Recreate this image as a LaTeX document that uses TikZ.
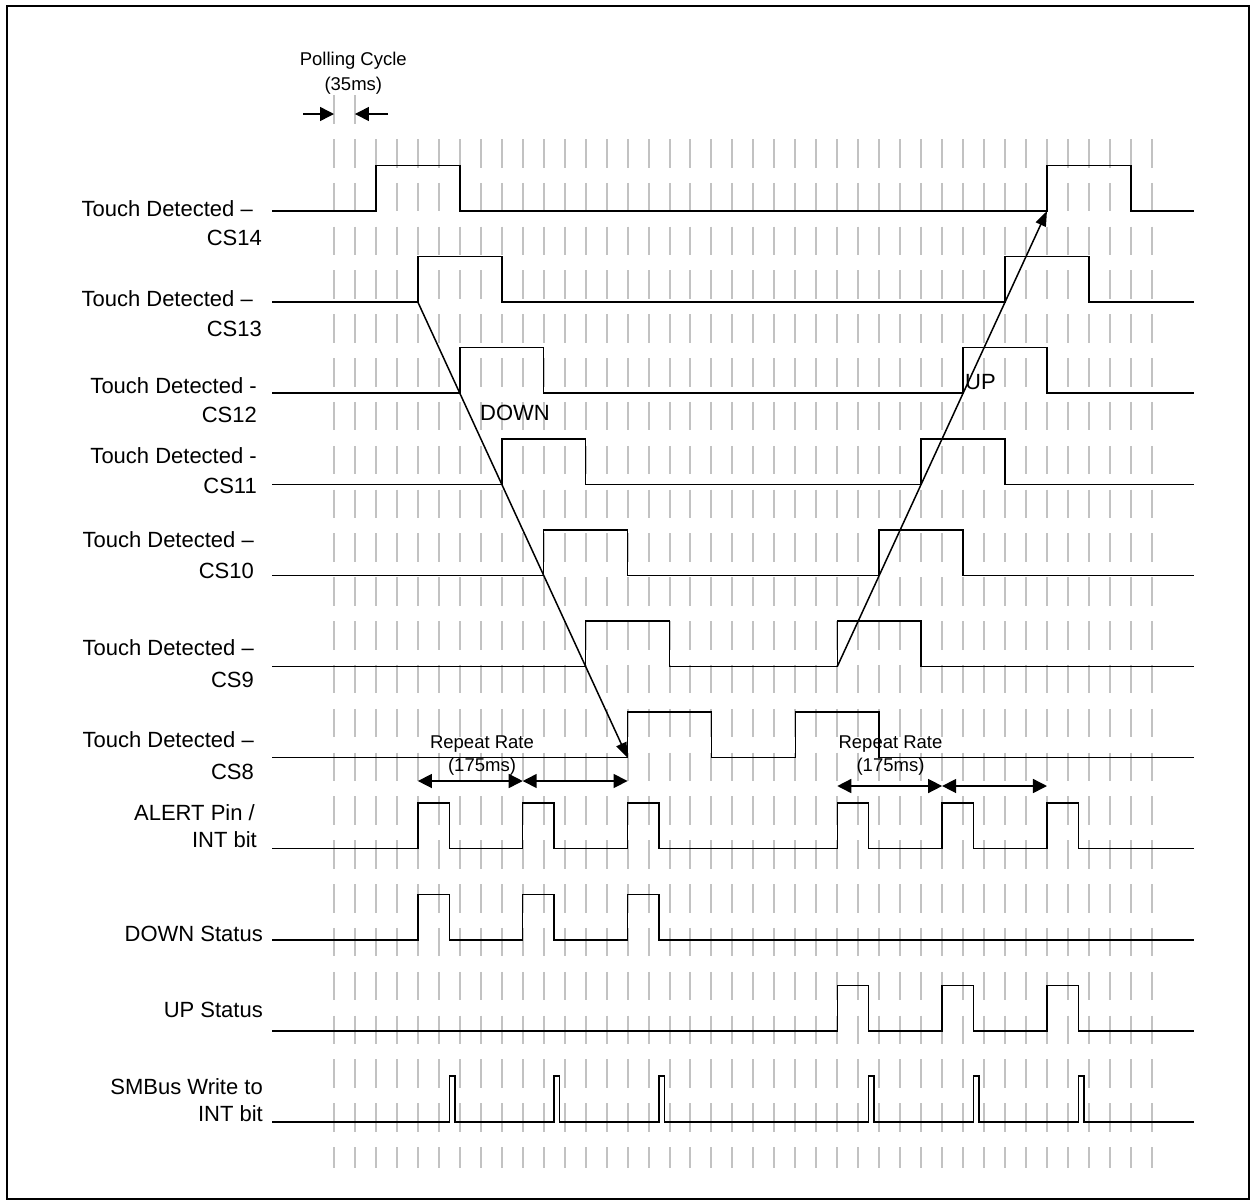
\documentclass[tikz,border=0pt]{standalone}
\usepackage{fontspec}
\setmainfont{Liberation Sans}
\usetikzlibrary{arrows.meta}
\pgfmathdeclarefunction{gx}{1}{\pgfmathparse{334+20.97*#1}}
\begin{document}
\begin{tikzpicture}[x=1pt,y=-1pt,
  grid/.style={line width=2pt,black!24,dash pattern=on 28.5pt off 15.33pt},
  sig/.style={line width=1.5pt,black},
  arr/.style={line width=1.5pt,-{Triangle[length=15pt,width=11pt]}},
  dim/.style={line width=1.5pt,{Triangle[length=14pt,width=14pt]}-{Triangle[length=14pt,width=14pt]}},
  lab/.style={font=\fontsize{22}{26}\selectfont,anchor=base east,inner sep=0pt},
  small/.style={font=\fontsize{18.5}{22}\selectfont,anchor=base,inner sep=0pt},
  big/.style={font=\fontsize{22}{26}\selectfont,anchor=base west,inner sep=0pt}]
\useasboundingbox (0,0) rectangle (1253,1203);
\fill[white] (0,0) rectangle (1253,1203);
\draw[line width=2pt] (7,6) rectangle (1249,1199);
% grid
\foreach \i in {0,1} \draw[grid] ({gx(\i)},95.17) -- ({gx(\i)},1168);
\foreach \i in {2,...,39} \draw[grid] ({gx(\i)},139) -- ({gx(\i)},1168);
% polling cycle
\node[small] (pc1) at (353.3,65) {Polling Cycle};
\node[small] (pc2) at (353.3,90) {(35ms)};
\coordinate (pa0) at (303,114);
\coordinate (pa1) at ({gx(0)},114);
\coordinate (pb0) at (388,114);
\coordinate (pb1) at ({gx(1)},114);
\draw[line width=1.5pt,-{Triangle[length=14pt,width=14pt]}] (pa0) -- (pa1);
\draw[line width=1.5pt,-{Triangle[length=14pt,width=14pt]}] (pb0) -- (pb1);
% touch rows
\foreach \k in {0,...,6}{
  \pgfmathsetmacro{\Y}{211+91.1*\k}
  \pgfmathsetmacro{\H}{\Y-45.5}
  \pgfmathsetmacro{\a}{2+2*\k}
  \pgfmathsetmacro{\b}{6+2*\k}
  \pgfmathsetmacro{\c}{34-2*\k}
  \pgfmathsetmacro{\d}{38-2*\k}
  \draw[sig] (272,\Y) -- ({gx(\a)},\Y) -- ({gx(\a)},\H) -- ({gx(\b)},\H) -- ({gx(\b)},\Y)
     -- ({gx(\c)},\Y) -- ({gx(\c)},\H) -- ({gx(\d)},\H) -- ({gx(\d)},\Y) -- (1194,\Y);
}
% alert, down, up
\def\Ya{848.7}\def\Ha{803.2}
\draw[sig] (272,\Ya) foreach \p in {4,9,14,24,29,34} { -- ({gx(\p)},\Ya) -- ({gx(\p)},\Ha) -- ({gx(\p+1.5)},\Ha) -- ({gx(\p+1.5)},\Ya)} -- (1194,\Ya);
\def\Yd{939.8}\def\Hd{894.3}
\draw[sig] (272,\Yd) foreach \p in {4,9,14} { -- ({gx(\p)},\Yd) -- ({gx(\p)},\Hd) -- ({gx(\p+1.5)},\Hd) -- ({gx(\p+1.5)},\Yd)} -- (1194,\Yd);
\def\Yu{1030.9}\def\Hu{985.4}
\draw[sig] (272,\Yu) foreach \p in {24,29,34} { -- ({gx(\p)},\Yu) -- ({gx(\p)},\Hu) -- ({gx(\p+1.5)},\Hu) -- ({gx(\p+1.5)},\Yu)} -- (1194,\Yu);
\def\Ys{1122}\def\Hs{1076}
\draw[sig] (272,\Ys) foreach \p in {5.5,10.5,15.5,25.5,30.5,35.5} { -- ({gx(\p)},\Ys) -- ({gx(\p)},\Hs) -- ({gx(\p)+5.5},\Hs) -- ({gx(\p)+5.5},\Ys)} -- (1194,\Ys);
% labels
\node[lab] (t14) at (253,216) {Touch Detected –};
\node[lab] (c14) at (262,245) {CS14};
\node[lab] (t13) at (253,306) {Touch Detected –};
\node[lab] (c13) at (262,336) {CS13};
\node[lab] (t12) at (257,393) {Touch Detected -};
\node[lab] (c12) at (257,422) {CS12};
\node[lab] (t11) at (257,463) {Touch Detected -};
\node[lab] (c11) at (257,493) {CS11};
\node[lab] (t10) at (254,547) {Touch Detected –};
\node[lab] (c10) at (254,578) {CS10};
\node[lab] (t9) at (254,655) {Touch Detected –};
\node[lab] (c9) at (254,687) {CS9};
\node[lab] (t8) at (254,747) {Touch Detected –};
\node[lab] (c8) at (254,779) {CS8};
\node[lab] (al1) at (255,820) {ALERT Pin /};
\node[lab] (al2) at (257,847) {INT bit};
\node[lab] (ds) at (263,941) {DOWN Status};
\node[lab] (us) at (263,1017) {UP Status};
\node[lab] (sm1) at (263,1094) {SMBus Write to};
\node[lab] (sm2) at (263,1121) {INT bit};
% down / up arrows
\coordinate (d0) at ({gx(4)},302.1);
\coordinate (d1) at ({gx(14)},757.6);
\draw[arr] (d0) -- (d1);
\coordinate (u0) at ({gx(24)},666.5);
\coordinate (u1) at ({gx(34)},211);
\draw[arr] (u0) -- (u1);
\node[big] (down) at (480,420.7) {DOWN};
\node[big] (up) at (965,389) {UP};
% repeat rate
\node[small] (rr1) at (482,748.3) {Repeat Rate};
\node[small] (rr2) at (482,771.7) {(175ms)};
\coordinate (r0) at ({gx(4)},781);
\coordinate (r1) at ({gx(9)},781);
\coordinate (r2) at ({gx(14)},781);
\draw[dim] (r0) -- (r1);
\draw[dim] (r1) -- (r2);
\node[small] (rr3) at (890.5,748.3) {Repeat Rate};
\node[small] (rr4) at (890.5,771.7) {(175ms)};
\coordinate (s0) at ({gx(24)},786);
\coordinate (s1) at ({gx(29)},786);
\coordinate (s2) at ({gx(34)},786);
\draw[dim] (s0) -- (s1);
\draw[dim] (s1) -- (s2);
\end{tikzpicture}
\end{document}
